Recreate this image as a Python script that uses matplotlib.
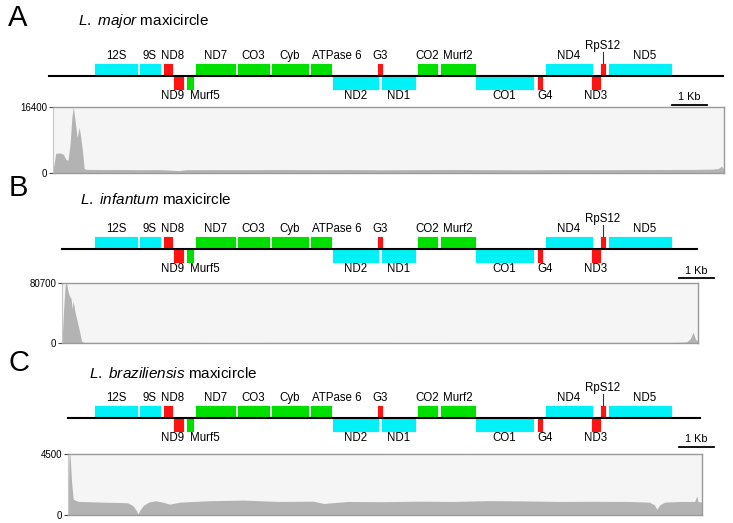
import matplotlib.pyplot as plt

plt.rcParams['font.family'] = ['Liberation Sans', 'DejaVu Sans']
plt.rcParams['mathtext.fontset'] = 'custom'
plt.rcParams['mathtext.it'] = 'Liberation Sans:italic'
plt.rcParams['mathtext.rm'] = 'Liberation Sans'

# genes on the maxicircle map (kb), strand +1 above the line, -1 below
gene_names = ['12S', '9S', 'ND8', 'ND9', 'Murf5', 'ND7', 'CO3', 'Cyb', 'ATPase 6', 'ND2',
              'G3', 'ND1', 'CO2', 'Murf2', 'CO1', 'G4', 'ND4', 'ND3', 'RpS12', 'ND5']
gene_start = [1.29, 2.57, 3.26, 3.54, 3.91, 4.17, 5.37, 6.34, 7.46, 8.09,
              9.37, 9.49, 10.51, 11.17, 12.17, 13.94, 14.17, 15.49, 15.74, 15.97]
gene_end = [2.54, 3.20, 3.54, 3.86, 4.14, 5.34, 6.31, 7.43, 8.09, 9.43,
            9.54, 10.49, 11.11, 12.20, 13.86, 14.11, 15.54, 15.77, 15.91, 17.80]
gene_strand = [1, 1, 1, -1, -1, 1, 1, 1, 1, -1,
               1, -1, 1, 1, -1, -1, 1, -1, 1, 1]
gene_type = ['c', 'c', 'r', 'r', 'g', 'g', 'g', 'g', 'g', 'c',
             'r', 'c', 'g', 'g', 'c', 'r', 'c', 'r', 'r', 'c']

# coverage profiles (kb, reads)
cov_a_kb = [0.0, 0.08, 0.2, 0.3, 0.37, 0.43, 0.49, 0.54, 0.58, 0.63, 0.69, 0.75, 0.79, 0.84,
            0.89, 0.95, 1.5, 2.0, 2.5, 3.0, 3.4, 3.6, 3.8, 4.5, 5.5, 6.5, 7.5, 8.5, 9.5, 10.5,
            11.5, 12.5, 13.5, 14.5, 15.5, 16.5, 17.5, 18.3, 18.8, 19.0, 19.1, 19.17]
cov_a = [700, 4900, 5000, 4600, 3300, 3200, 7400, 13900, 16400, 13100, 8900, 11300, 9000, 5600,
         1150, 900, 850, 880, 820, 860, 700, 600, 820, 850, 830, 870, 840, 860, 800, 850,
         870, 830, 800, 850, 830, 860, 880, 900, 950, 1100, 1700, 900]

cov_b_kb = [0.0, 0.05, 0.09, 0.13, 0.17, 0.2, 0.26, 0.29, 0.32, 0.37, 0.42, 0.51, 0.56, 0.62,
            1.5, 3, 4.5, 6, 7.5, 9, 10.5, 12, 13.5, 15, 16.5, 17.5, 17.85, 17.95, 18.03, 18.1, 18.17]
cov_b = [2000, 48000, 78000, 80700, 70000, 64500, 59700, 46000, 56500, 42000, 32300, 13700, 2400, 900,
         800, 850, 750, 800, 850, 800, 780, 820, 800, 850, 800, 900, 1500, 6000, 14500, 5000, 2000]

cov_c_kb = [0.0, 0.03, 0.06, 0.1, 0.15, 0.3, 1.0, 1.5, 1.7, 1.85, 1.95, 2.0, 2.05, 2.15, 2.3, 2.5,
            2.7, 2.9, 3.2, 4, 5, 6, 7, 7.3, 8, 9, 10, 11, 12, 13, 14, 15, 16, 16.6, 16.75, 16.82,
            16.9, 17.05, 17.5, 17.9, 17.96, 18.0, 18.11]
cov_c = [300, 4500, 4400, 2500, 1150, 1000, 950, 920, 900, 700, 350, 80, 350, 700, 950, 1050,
         950, 800, 950, 1050, 1100, 1000, 1020, 850, 1000, 980, 1020, 1000, 1060, 1040, 1000, 1010, 1000, 950, 750, 420,
         750, 950, 1000, 1000, 1400, 1000, 950]

letters = ['A', 'B', 'C']
species = ['L. major', 'L. infantum', 'L. braziliensis']
cov_max = [16400, 80700, 4500]
cov_len = [19.17, 18.17, 18.11]
line_span = [(0.0, 19.26), (0.37, 18.51), (0.54, 18.6)]
scale_start = [17.8, 18.0, 18.0]
cov_kb = [cov_a_kb, cov_b_kb, cov_c_kb]
cov_val = [cov_a, cov_b, cov_c]

colors = {'c': '#00f2f7', 'g': '#00e000', 'r': '#ff1212'}
label_shift = {'ND8': 0.14, 'ATPase 6': 0.46, 'ND9': -0.17, 'Murf5': 0.43, 'G4': 0.14, 'ND5': 0.14}

W, H = 733, 523
fig = plt.figure(figsize=(W / 100, H / 100), dpi=100)

def rect(l, t, r, b):
    return [l / W, 1 - b / H, (r - l) / W, (b - t) / H]

# pixel layout of each panel: line y, coverage box, letter / title
line_y = [76, 249, 418]
cov_box = [(53, 107, 724, 173), (62, 283, 698, 343), (68, 454, 702, 515)]
letter_xy = [(18, 18), (18, 188), (19, 363)]
title_xy = [(78, 21), (80, 200), (89, 374)]
U = 13.5  # px per gene box height

for p in range(3):
    ly = line_y[p]
    ax = fig.add_axes(rect(40, ly - 45, 730, ly + 35))
    ax.set_xlim(-9 / 35, 681 / 35)
    ax.set_ylim(-35 / U, 45 / U)
    ax.axis('off')
    ax.plot(line_span[p], [0, 0], color='black', lw=1.5, zorder=3)
    for i, name in enumerate(gene_names):
        ax.bar(gene_start[i], gene_strand[i], width=gene_end[i] - gene_start[i], bottom=0,
               align='edge', color=colors[gene_type[i]], edgecolor='white', linewidth=0.6, zorder=2)
        xc = (gene_start[i] + gene_end[i]) / 2 + label_shift.get(name, 0)
        if name == 'RpS12':
            ax.text(xc, 30 / U, name, ha='center', va='center', fontsize=8.3)
            ax.plot([xc, xc], [1, 24 / U], color='#333333', lw=0.8)
        elif gene_strand[i] > 0:
            ax.text(xc, 20 / U, name, ha='center', va='center', fontsize=8.3)
        else:
            ax.text(xc, -20 / U, name, ha='center', va='center', fontsize=8.3)
    s = scale_start[p]
    ax.plot([s, s + 1], [-28.5 / U, -28.5 / U], color='black', lw=1.3)
    ax.text(s + 0.5, -21.5 / U, '1 Kb', ha='center', va='center', fontsize=7.8)

    fig.text(letter_xy[p][0] / W, 1 - letter_xy[p][1] / H, letters[p], fontsize=21,
             ha='center', va='center')
    fig.text(title_xy[p][0] / W, 1 - title_xy[p][1] / H,
             r'$\it{' + species[p].replace(' ', r'\ ') + '}$ maxicircle',
             fontsize=11, ha='left', va='center')

    cx = fig.add_axes(rect(*cov_box[p]))
    cx.set_facecolor('#f5f5f5')
    cx.fill_between(cov_kb[p], cov_val[p], color='#b3b3b3', lw=0)
    cx.set_xlim(0, cov_len[p])
    cx.set_ylim(0, cov_max[p])
    cx.set_xticks([])
    cx.set_yticks([0, cov_max[p]])
    cx.set_yticklabels(['0', str(cov_max[p])])
    cx.tick_params(axis='y', length=3, width=0.8, color='#444444', labelsize=7, pad=1)
    for side in ['top', 'right', 'bottom']:
        cx.spines[side].set_color('#9a9a9a')
        cx.spines[side].set_linewidth(1.0)
    cx.spines['left'].set_color('#c8c8c8')
    cx.spines['left'].set_linewidth(0.8)

fig.savefig('out.png', dpi=100)
